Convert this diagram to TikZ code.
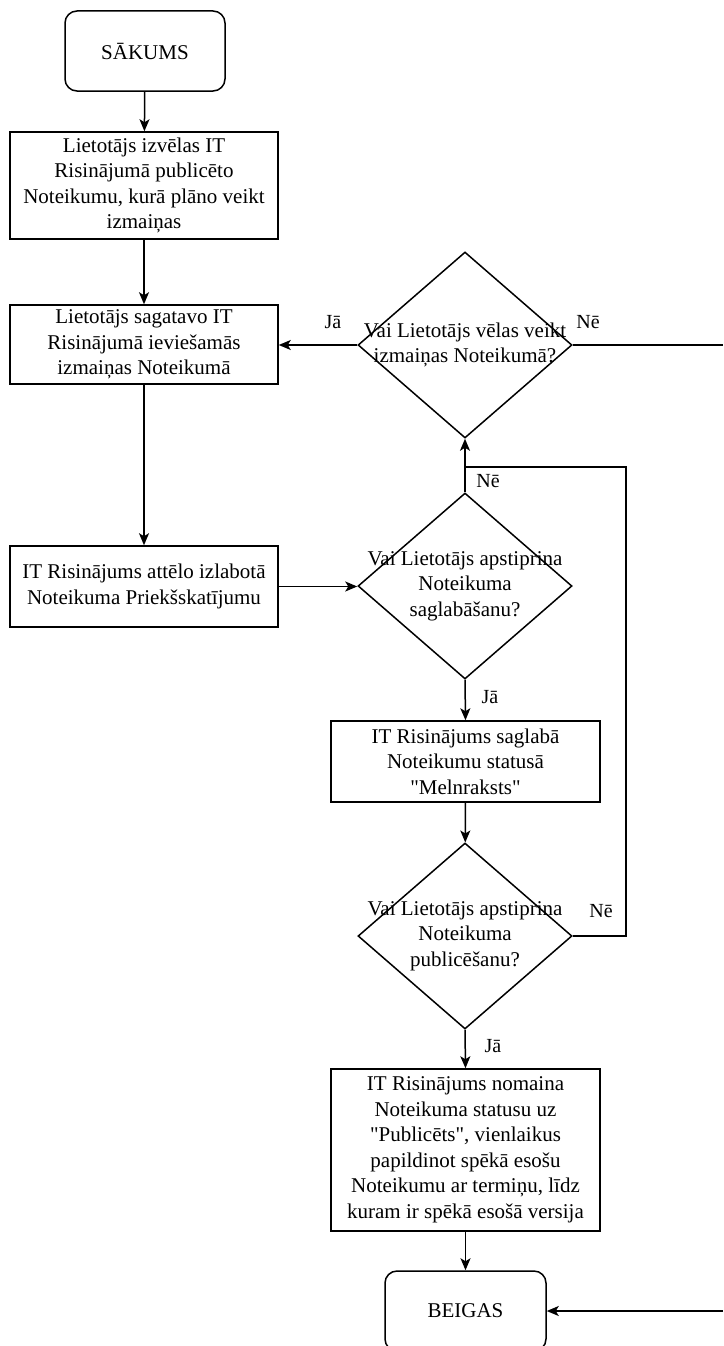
\documentclass[tikz,border=0pt]{standalone}
\usepackage{fontspec}
\setmainfont{Liberation Serif}
\usetikzlibrary{shapes.geometric,arrows.meta}
\begin{document}
\begin{tikzpicture}[x=1pt,y=-1pt,
  every node/.style={font=\fontsize{21}{25.5}\selectfont},
  proc/.style={draw,line width=1.5pt,align=center,inner sep=0pt},
  term/.style={draw,rounded corners=12pt,line width=1.5pt,inner sep=0pt},
  dia/.style={draw,diamond,line width=1.5pt,inner sep=0pt,minimum width=214pt,minimum height=186pt},
  txt/.style={align=center,inner sep=0pt},
  lbl/.style={inner sep=0pt,font=\fontsize{20}{24}\selectfont},
  arr/.style={draw,line width=1.5pt,-{Stealth[length=12pt,width=10pt,inset=3pt]}},
  ln/.style={draw,line width=1.5pt}]
\useasboundingbox (0,0) rectangle (723,1346);

\node[term,minimum width=160pt,minimum height=80pt] (s) at (145,51) {SĀKUMS};
\node[proc,minimum width=268pt,minimum height=107pt] (b1) at (144,185.5)
  {Lietotājs izvēlas IT\\Risinājumā publicēto\\Noteikumu, kurā plāno veikt\\izmaiņas};
\node[proc,minimum width=268pt,minimum height=79pt] (b2) at (144,344.5)
  {Lietotājs sagatavo IT\\Risinājumā ieviešamās\\izmaiņas Noteikumā};
\node[proc,minimum width=268pt,minimum height=81pt] (b3) at (144,586.5)
  {IT Risinājums attēlo izlabotā\\Noteikuma Priekšskatījumu};

\node[dia] (d1) at (465,345) {};
\node[txt] (t1) at (465,345) {Vai Lietotājs vēlas veikt\\izmaiņas Noteikumā?};
\node[dia] (d2) at (465,586) {};
\node[txt] (t2) at (465,586) {Vai Lietotājs apstiprina\\Noteikuma\\saglabāšanu?};
\node[proc,minimum width=269pt,minimum height=81pt] (b4) at (465.5,761.5)
  {IT Risinājums saglabā\\Noteikumu statusā\\\textquotedbl Melnraksts\textquotedbl};
\node[dia] (d3) at (465,936) {};
\node[txt] (t3) at (465,936) {Vai Lietotājs apstiprina\\Noteikuma\\publicēšanu?};
\node[proc,minimum width=269pt,minimum height=162pt] (b5) at (465.5,1150)
  {IT Risinājums nomaina\\Noteikuma statusu uz\\\textquotedbl Publicēts\textquotedbl, vienlaikus\\papildinot spēkā esošu\\Noteikumu ar termiņu, līdz\\kuram ir spēkā esošā versija};
\node[term,minimum width=161pt,minimum height=80pt] (e) at (465.5,1311) {BEIGAS};

\coordinate (r1) at (723,345);
\coordinate (r2) at (723,1311);
\coordinate (rc) at (626,467);
\coordinate (j) at (465,467);

\draw[arr] (s) -- (b1);
\draw[arr] (b1) -- (b2);
\draw[arr] (b2) -- (b3);
\draw[arr] (d1.west) -- (d1.west -| b2.east);
\draw[ln] (d1.east) -- (r1);
\draw[arr] (b3.east) -- (b3.east -| d2.west);
\draw[arr] (d2.north) -- (d1.south);
\draw[arr] (d2.south) -- (b4.north);
\draw[arr] (b4) -- (d3);
\draw[ln] (d3.east) -| (rc) -- (j);
\draw[arr] (d3.south) -- (b5.north);
\draw[arr] (b5) -- (e);
\draw[arr] (r2) -- (e.east);

\node[lbl] (l1) at (333,322) {Jā};
\node[lbl] (l2) at (588,322) {Nē};
\node[lbl] (l3) at (488,481) {Nē};
\node[lbl] (l4) at (490,697) {Jā};
\node[lbl] (l5) at (601,911) {Nē};
\node[lbl] (l6) at (493,1046) {Jā};
\end{tikzpicture}
\end{document}
